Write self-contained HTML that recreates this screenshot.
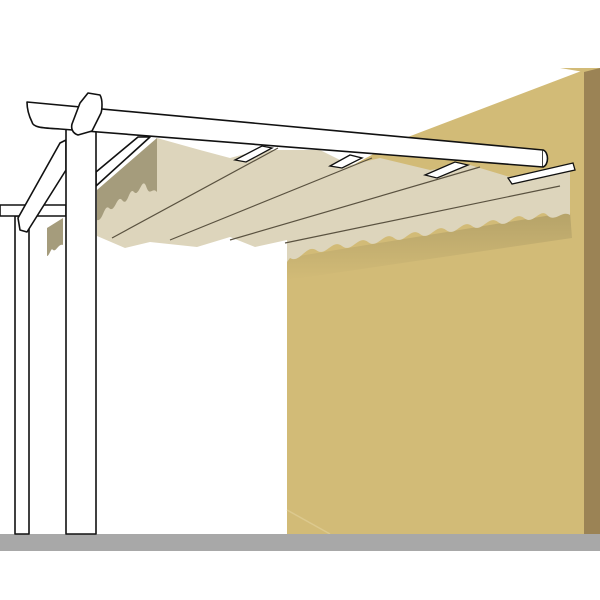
<!DOCTYPE html>
<html><head><meta charset="utf-8"><style>html,body{margin:0;padding:0;background:#fff}svg{display:block}</style></head>
<body>
<svg width="600" height="600" viewBox="0 0 600 600" xmlns="http://www.w3.org/2000/svg">
<defs>
<linearGradient id="sh" x1="0" y1="0" x2="0" y2="1">
<stop offset="0" stop-color="#b09e66"/><stop offset="1" stop-color="#d2bb77"/>
</linearGradient>
</defs>
<rect width="600" height="600" fill="#fff"/>
<!-- wall -->
<polygon points="287,250 287,534 584,534 584,70 400,140 287,200" fill="#d2bb77"/>
<polygon points="584,68 600,68 600,534 584,534" fill="#9b8355"/>
<polygon points="560,68 600,68 584,72" fill="#d2bb77"/>
<line x1="287" y1="510" x2="330" y2="534" stroke="#dcc98e" stroke-width="1.5"/>
<!-- shadow under awning on wall -->
<polygon points="287,258 570,212 572,238 287,280" fill="url(#sh)" opacity="0.85"/>
<!-- ground -->
<rect x="0" y="534" width="600" height="17" fill="#a8a8a8"/>
<!-- awning main -->
<path d="M157,138 L200,150 L230,158 L260,150 L320,150 L350,165 L380,158 L430,170 L470,165 L520,180 L570,170 L570,215
 C562,210 556,222 548,216 C540,206 534,226 524,218 C514,210 508,230 498,222 C488,214 482,234 472,226 C462,218 456,238 446,230 C436,222 430,242 420,234 C410,226 404,246 394,238 C384,230 378,250 368,242 C358,234 352,254 342,246 C332,238 326,258 316,250 C306,244 300,264 290,258 L287,262 L287,240
 L255,247 L230,237 L197,247 L150,242 L125,248 L97,236 L97,190 Z" fill="#ddd5bc"/>
<!-- shaded side -->
<path d="M97,190 L157,138 L157,192 C152,186 150,198 146,186 C142,176 139,198 134,192 C129,186 128,208 122,200 C117,194 115,214 109,208 C104,204 103,222 97,220 Z" fill="#a59c7c"/>
<path d="M47,228 L63,218 L63,245 C58,243 56,254 52,249 C50,251 49,256 47,256 Z" fill="#a59c7c"/>
<!-- awning lines -->
<g stroke="#5a5240" stroke-width="1.2" fill="none">
<line x1="112" y1="238" x2="278" y2="148"/>
<line x1="170" y1="240" x2="372" y2="158"/>
<line x1="230" y1="240" x2="480" y2="167"/>
<line x1="285" y1="243" x2="560" y2="186"/>
</g>
<!-- rails -->
<g stroke="#111" stroke-width="1.3" fill="#fff">
<polygon points="330,166 350,155 362,158 342,168"/>
<polygon points="425,175 455,162 468,165 437,178"/>
<polygon points="508,178 573,163 575,170 512,184"/>
<polygon points="235,160 262,146 272,148 246,162"/>
</g>
<!-- back post, crossbar, brace -->
<g stroke="#111" stroke-width="1.6" fill="#fff" stroke-linejoin="round">
<rect x="15" y="216" width="14" height="318"/>
<polygon points="0,205 66,205 66,216 0,216"/>
<polygon points="60,143 66,140 66,170 27,232 20,230 18,218"/>
<polygon points="96,172 138,137 150,137 96,186"/>
<rect x="66" y="126" width="30" height="408"/>
<path d="M27,102 L543,150 L543,167 L60,129 C45,128 33,128 32,122 C28,114 27,108 27,102 Z"/>
<path d="M543,150 C549,152 549,165 543,167" />
<path d="M88,93 L100,95 C103,100 102,110 101,113 L92,131 L78,135 C72,133 71,128 72,124 L80,103 Z"/>
</g>
</svg>
</body></html>
